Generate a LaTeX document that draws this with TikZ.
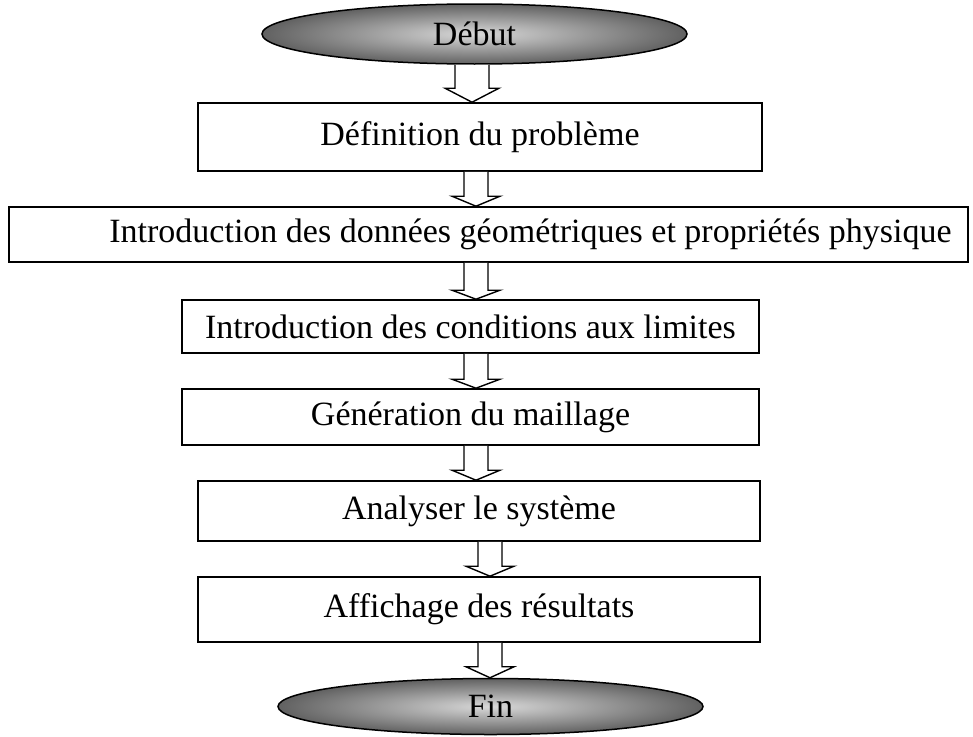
\documentclass[tikz,border=0pt]{standalone}
\usepackage{fontspec}
\setmainfont{Liberation Serif}
\usetikzlibrary{shapes.geometric,calc}
\tikzset{
  stepbox/.style={draw=black, line width=1.6pt, fill=white, inner sep=0pt, rectangle,
    font=\fontsize{34}{40}\selectfont},
  terminal/.style={ellipse, draw=black, line width=1.5pt, inner sep=0pt,
    inner color=gray!30, outer color=black!62,
    font=\fontsize{34}{40}\selectfont},
  blockarrow/.style={draw=black, line width=1.4pt, fill=white, line join=miter}
}
% #1 from node, #2 to node, #3 x centre, #4 shaft half width, #5 head half width, #6 head length
\newcommand{\blockarr}[6]{%
  \draw[blockarrow] let \p1=(#1.south), \p2=(#2.north) in
    ({#3pt-#4pt},\y1) -- ({#3pt-#4pt},{\y2+#6pt}) -- ({#3pt-#5pt},{\y2+#6pt}) --
    ({#3pt},\y2) -- ({#3pt+#5pt},{\y2+#6pt}) -- ({#3pt+#4pt},{\y2+#6pt}) -- ({#3pt+#4pt},\y1);}
\begin{document}
\begin{tikzpicture}[x=1pt,y=1pt]
\useasboundingbox (0,0) rectangle (973,-736);
\node[terminal, minimum width=425pt, minimum height=60pt] (debut) at (474.5,-34) {\raisebox{-4pt}{Début}};
\node[stepbox, minimum width=564pt, minimum height=68pt] (b1) at (480,-137) {Définition du problème};
\node[stepbox, minimum width=959pt, minimum height=55pt] (b2) at (488.5,-234.5) {\hspace*{84pt}Introduction des données géométriques et propriétés physique};
\node[stepbox, minimum width=577pt, minimum height=53pt] (b3) at (470.5,-326.5) {Introduction des conditions aux limites};
\node[stepbox, minimum width=577pt, minimum height=56pt] (b4) at (470.5,-417) {Génération du maillage};
\node[stepbox, minimum width=562pt, minimum height=60pt] (b5) at (479,-511) {Analyser le système};
\node[stepbox, minimum width=562pt, minimum height=65pt] (b6) at (479,-609.5) {Affichage des résultats};
\node[terminal, minimum width=425pt, minimum height=56pt] (fin) at (490.5,-706.5) {\raisebox{-4pt}{Fin}};
\blockarr{debut}{b1}{472}{17}{27}{14}
\blockarr{b1}{b2}{476}{12}{24}{10}
\blockarr{b2}{b3}{476}{12}{24}{9}
\blockarr{b3}{b4}{476}{12}{24}{9}
\blockarr{b4}{b5}{476}{12}{24}{10}
\blockarr{b5}{b6}{490}{12}{24}{10}
\blockarr{b6}{fin}{490}{12}{24}{11}
\end{tikzpicture}
\end{document}
